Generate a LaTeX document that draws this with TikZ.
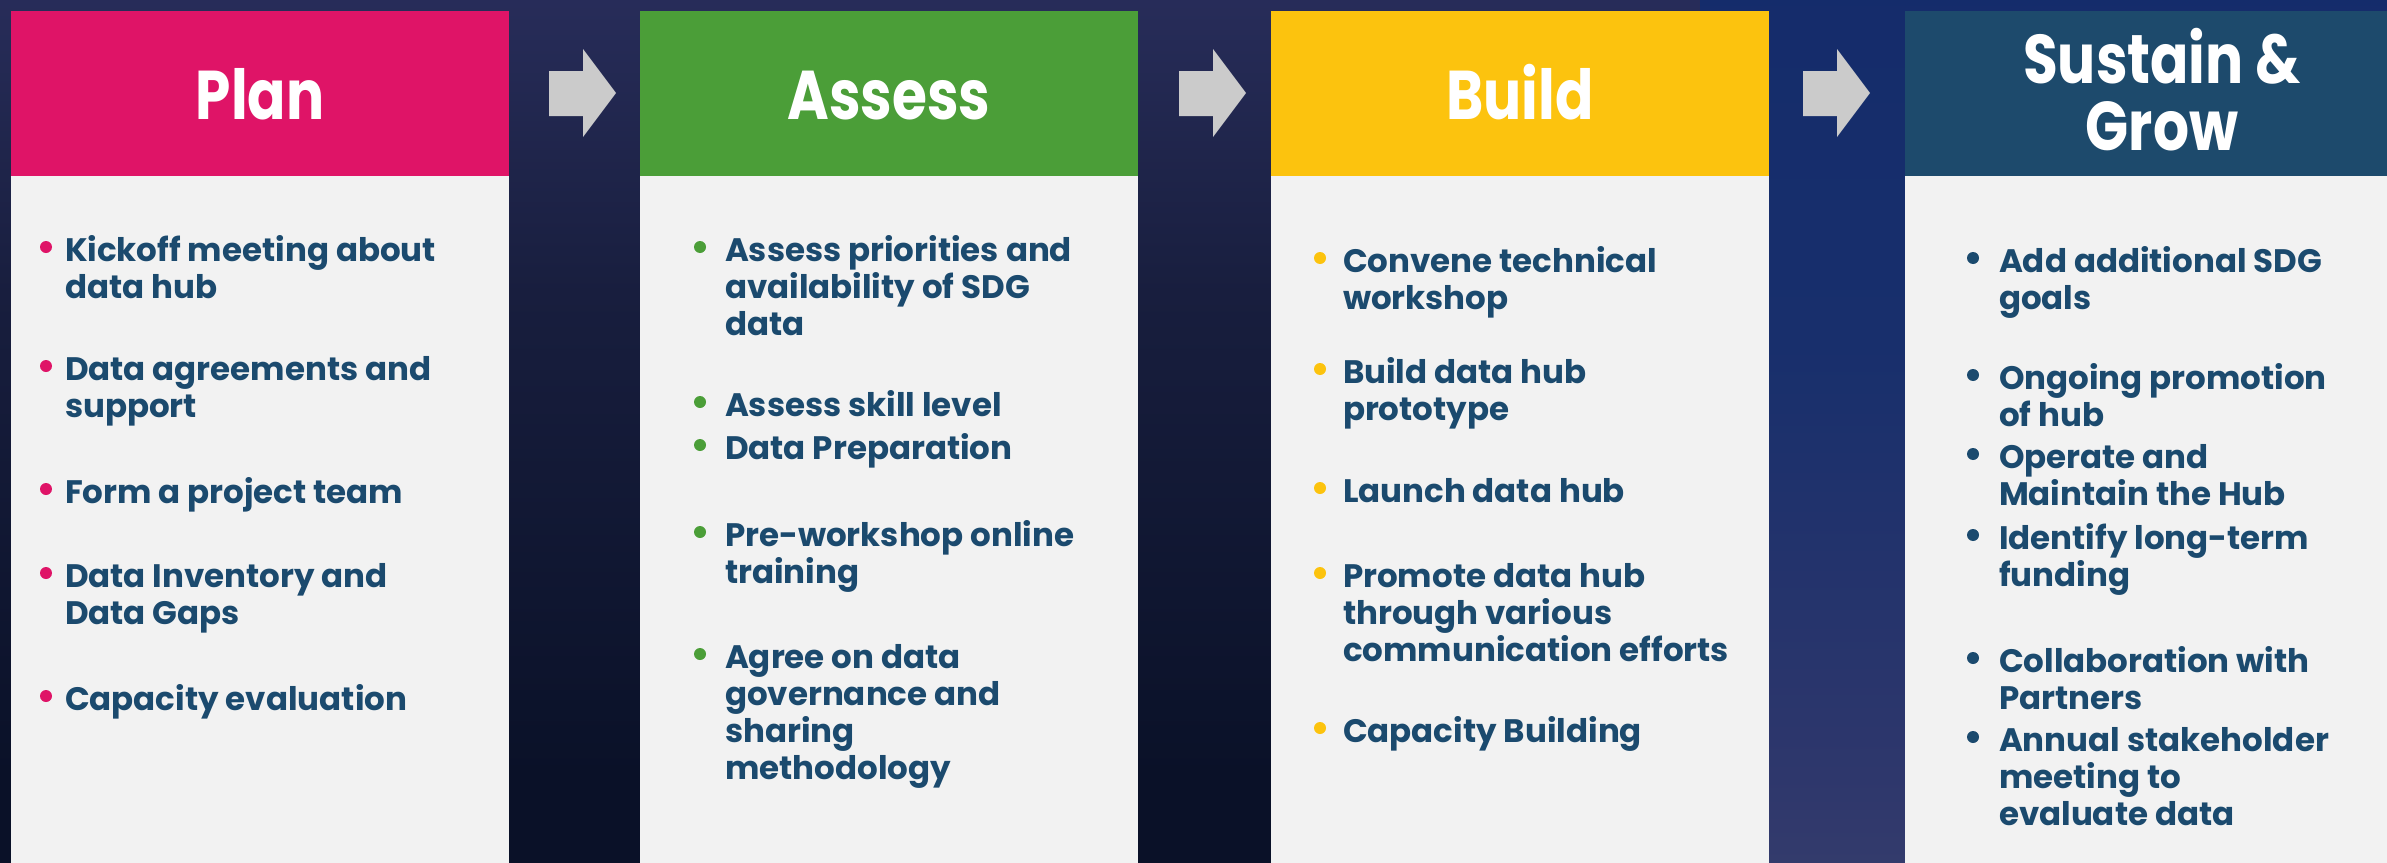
\documentclass[tikz,border=0pt]{standalone}
\usepackage{fontspec}
\setmainfont{Poppins}
\definecolor{plan}{HTML}{DF1467}
\definecolor{assess}{HTML}{4B9E38}
\definecolor{build}{HTML}{FCC30E}
\definecolor{sustain}{HTML}{1D4A6C}
\definecolor{bodyc}{HTML}{F2F2F2}
\definecolor{txt}{HTML}{1B4A6E}
\definecolor{arr}{HTML}{CBCBCB}
\definecolor{bgA}{HTML}{0A1128}
\definecolor{bgB}{HTML}{181E3E}
\definecolor{bgC}{HTML}{2A2F5E}
\definecolor{bgD}{HTML}{373C76}
\definecolor{bgE}{HTML}{4C4E6A}
\definecolor{bgF}{HTML}{2E376C}
\definecolor{bgG}{HTML}{182F6C}
\definecolor{bgH}{HTML}{10286A}
\pgfdeclareverticalshading{bgsh}{100bp}{color(0bp)=(bgA); color(30bp)=(bgA); color(58bp)=(bgB); color(78bp)=(bgC); color(100bp)=(bgD)}
\pgfdeclareverticalshading{bgsr}{100bp}{color(0bp)=(bgE); color(30bp)=(bgF); color(55bp)=(bgG); color(100bp)=(bgH)}
\tikzset{
  hdrbox/.style={fill=#1, draw=none, anchor=north west, minimum width=498pt, minimum height=165pt, inner sep=0pt, outer sep=0pt},
  bodybox/.style={fill=bodyc, draw=none, anchor=north west, minimum width=498pt, minimum height=690pt, inner sep=0pt, outer sep=0pt},
  title/.style={text=white, font=\bfseries\fontsize{69}{68}\selectfont, align=center, inner sep=0pt, anchor=base},
  item/.style={anchor=north west, inner sep=0pt, outer sep=0pt, align=left, text=txt, font=\bfseries\fontsize{32.5}{37.3}\selectfont},
  bul/.style={circle, fill=#1, draw=none, inner sep=0pt, minimum size=12pt},
  blockarrow/.style={fill=arr, draw=none}
}
\newcommand\ttl[1]{\scalebox{0.82}[1]{#1}}
\newcommand\bitem[6]{%
  \node[bul=#2] (#1b) at (#3,#5-14) {};
  \node[item] (#1) at (#4,#5-26.1) {\strut #6};}
\newcommand\blockarr[1]{%
  \fill[blockarrow] (#1,71) -- (#1+34,71) -- (#1+34,49) -- (#1+67,93) -- (#1+34,137) -- (#1+34,116) -- (#1,116) -- cycle;}
\begin{document}
\begin{tikzpicture}[x=1pt,y=-1pt]
\useasboundingbox (0,0) rectangle (2387,862);
\clip (0,0) rectangle (2387,862);
% background
\shade[shading=bgsh] (0,0) rectangle (2387,862);
\shade[shading=bgsr] (1700,0) rectangle (2387,862);
% boxes
\node[hdrbox=plan] (planH) at (11,11) {};
\node[bodybox] (planB) at (planH.south west) {};
\node[hdrbox=assess] (assessH) at (640,11) {};
\node[bodybox] (assessB) at (assessH.south west) {};
\node[hdrbox=build] (buildH) at (1271,11) {};
\node[bodybox] (buildB) at (buildH.south west) {};
\node[hdrbox=sustain] (sustainH) at (1905,11) {};
\node[bodybox] (sustainB) at (sustainH.south west) {};
% titles
\node[title] (planT) at (260,119) {\ttl{Plan}};
\node[title] (assessT) at (889,119) {\ttl{Assess}};
\node[title] (buildT) at (1520,119) {\ttl{Build}};
\node[title] (sustainT) at (2162,83) {\ttl{Sustain \&}};
\node[title] (growT) at (2162,150) {\ttl{Grow}};
% arrows
\blockarr{549}
\blockarr{1179}
\blockarr{1803}
% Plan
\bitem{p1}{plan}{46}{65}{261}{Kickoff meeting about\\data hub}
\bitem{p2}{plan}{46}{65}{380}{Data agreements and\\support}
\bitem{p3}{plan}{46}{65}{503}{Form a project team}
\bitem{p4}{plan}{46}{65}{587}{Data Inventory and\\Data Gaps}
\bitem{p5}{plan}{46}{65}{710}{Capacity evaluation}
% Assess
\bitem{a1}{assess}{700}{725}{261}{Assess priorities and\\availability of SDG\\data}
\bitem{a2}{assess}{700}{725}{416}{Assess skill level}
\bitem{a3}{assess}{700}{725}{459}{Data Preparation}
\bitem{a4}{assess}{700}{725}{546}{Pre-workshop online\\training}
\bitem{a5}{assess}{700}{725}{668}{Agree on data\\governance and\\sharing\\methodology}
% Build
\bitem{b1}{build}{1320}{1343}{272}{Convene technical\\workshop}
\bitem{b2}{build}{1320}{1343}{383}{Build data hub\\prototype}
\bitem{b3}{build}{1320}{1343}{502}{Launch data hub}
\bitem{b4}{build}{1320}{1343}{587}{Promote data hub\\through various\\communication efforts}
\bitem{b5}{build}{1320}{1343}{742}{Capacity Building}
% Sustain
\bitem{s1}{txt}{1973}{1999}{272}{Add additional SDG\\goals}
\bitem{s2}{txt}{1973}{1999}{389}{Ongoing promotion\\of hub}
\bitem{s3}{txt}{1973}{1999}{468}{Operate and\\Maintain the Hub}
\bitem{s4}{txt}{1973}{1999}{549}{Identify long-term\\funding}
\bitem{s5}{txt}{1973}{1999}{672}{Collaboration with\\Partners}
\bitem{s6}{txt}{1973}{1999}{751}{Annual stakeholder\\meeting to\\evaluate data}
\end{tikzpicture}
\end{document}
